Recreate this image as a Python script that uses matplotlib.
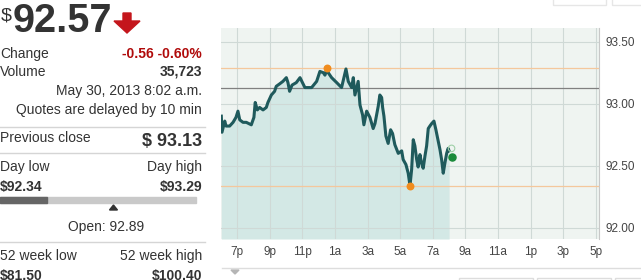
import matplotlib
matplotlib.use("Agg")
import matplotlib.pyplot as plt
from matplotlib.patches import Polygon, Rectangle

# ---- Data ----
# hours after 6 p.m. on the previous day
hours = [0.02, 0.06, 0.23, 0.31, 0.53, 0.74, 0.92, 1.04, 1.15, 1.35, 1.55, 1.86,
         2.02, 2.10, 2.23, 2.37, 2.58, 2.78, 2.88, 3.09, 3.29, 3.39, 3.60, 3.80,
         4.01, 4.11, 4.21, 4.36, 4.62, 4.85, 5.15, 5.56, 5.87, 6.07, 6.28, 6.38,
         6.53, 6.58, 6.79, 7.10, 7.40, 7.67, 7.81, 8.02, 8.12, 8.22, 8.42, 8.53,
         8.69, 8.77, 8.94, 9.14, 9.34, 9.45, 9.65, 9.75, 9.86, 9.92, 10.00, 10.12,
         10.26, 10.41, 10.53, 10.67, 10.88, 11.09, 11.18, 11.35, 11.49, 11.60, 11.70, 11.80,
         11.90, 12.01, 12.10, 12.21, 12.31, 12.41, 12.52, 12.62, 12.72, 12.82, 12.93, 13.07,
         13.19, 13.33, 13.44, 13.54, 13.64, 13.74, 13.85, 13.94, 14.00]
prices = [92.90, 92.77, 92.86, 92.82, 92.82, 92.85, 92.89, 92.94, 92.87, 92.85, 92.85, 92.83,
          92.89, 93.01, 92.95, 92.97, 92.95, 92.97, 93.01, 93.07, 93.10, 93.14, 93.16, 93.18,
          93.21, 93.17, 93.10, 93.15, 93.17, 93.21, 93.13, 93.13, 93.18, 93.26, 93.25, 93.23,
          93.29, 93.25, 93.21, 93.17, 93.13, 93.28, 93.18, 93.13, 93.21, 93.07, 93.18, 92.99,
          92.91, 92.83, 92.94, 92.89, 92.80, 92.84, 92.98, 93.07, 93.05, 92.97, 92.90, 92.74,
          92.68, 92.79, 92.76, 92.67, 92.60, 92.62, 92.55, 92.51, 92.44, 92.34, 92.47, 92.71,
          92.66, 92.55, 92.49, 92.59, 92.52, 92.48, 92.58, 92.66, 92.80, 92.82, 92.84, 92.86,
          92.79, 92.70, 92.63, 92.55, 92.44, 92.52, 92.60, 92.64, 92.62]

tick_hours = [1, 3, 5, 7, 9, 11, 13, 15, 17, 19, 21, 23]
tick_labels = ["7p", "9p", "11p", "1a", "3a", "5a", "7a", "9a", "11a", "1p", "3p", "5p"]
price_ticks = [92.00, 92.50, 93.00, 93.50]

last_hour = 14.15
last_price = 92.57
high_hour = 6.53
low_hour = 11.60
prev_close = 93.13
day_low = 92.34
day_high = 93.29
open_price = 92.89

plt.rcParams["font.family"] = ["Liberation Sans", "DejaVu Sans"]

W, H = 641, 280
fig = plt.figure(figsize=(W / 100, H / 100), dpi=100)


def fx(x):
    return x / W


def fy(y):
    return 1 - y / H


TXT = "#333333"

# ---- Left panel ----
fig.text(fx(1), fy(21), "$", fontsize=14, color=TXT)
fig.text(fx(13), fy(32), "92.57", fontsize=28.5, fontweight="bold", color=TXT)
arrow = [(123, 13), (131, 13), (131, 21), (140, 21), (127, 33), (114, 21), (123, 21)]
fig.patches.append(Polygon([(fx(a), fy(b)) for a, b in arrow], closed=True,
                           transform=fig.transFigure, color="#c4161c"))

rows = [
    (58, "Change", "-0.56 -0.60%", "#b00b0b"),
    (76, "Volume", "35,723", TXT),
]
for y, left, right, col in rows:
    fig.text(fx(0), fy(y), left, fontsize=10, color=TXT)
    fig.text(fx(202), fy(y), right, fontsize=10, fontweight="bold", color=col, ha="right")
fig.text(fx(202), fy(95), "May 30, 2013 8:02 a.m.", fontsize=10, color=TXT, ha="right")
fig.text(fx(202), fy(114), "Quotes are delayed by 10 min", fontsize=10, color=TXT, ha="right")

for y in [127, 153, 242]:
    fig.add_artist(plt.Line2D([0, fx(205)], [fy(y), fy(y)], color="#d5d5d5", lw=1))

fig.text(fx(0), fy(142), "Previous close", fontsize=10, color=TXT)
fig.text(fx(202), fy(146), "$ 93.13", fontsize=13, fontweight="bold", color=TXT, ha="right")

fig.text(fx(0), fy(171), "Day low", fontsize=10, color=TXT)
fig.text(fx(202), fy(171), "Day high", fontsize=10, color=TXT, ha="right")
fig.text(fx(0), fy(191), "$92.34", fontsize=10, fontweight="bold", color=TXT)
fig.text(fx(202), fy(191), "$93.29", fontsize=10, fontweight="bold", color=TXT, ha="right")

# day range bar
bar_w = 196
frac_now = (last_price - day_low) / (day_high - day_low)
frac_open = (open_price - day_low) / (day_high - day_low)
fig.patches.append(Rectangle((0, fy(203)), fx(bar_w), 6 / H, transform=fig.transFigure,
                             color="#c9c9c9"))
fig.patches.append(Rectangle((0, fy(203)), fx(bar_w * frac_now), 6 / H,
                             transform=fig.transFigure, color="#666666"))
tx = bar_w * frac_open
fig.patches.append(Polygon([(fx(tx - 4), fy(210)), (fx(tx + 4), fy(210)), (fx(tx), fy(205))],
                           transform=fig.transFigure, color="#333333"))
fig.text(fx(106), fy(231), "Open: 92.89", fontsize=10, color=TXT, ha="center")

fig.text(fx(0), fy(260), "52 week low", fontsize=10, color=TXT)
fig.text(fx(202), fy(260), "52 week high", fontsize=10, color=TXT, ha="right")
# these sit on the bottom edge, cut off as in the reference
fig.text(fx(0), fy(280), "$81.50", fontsize=10, fontweight="bold", color=TXT)
fig.text(fx(202), fy(280), "$100.40", fontsize=10, fontweight="bold", color=TXT, ha="right")

# ---- Chart ----
ax = fig.add_axes([fx(221), fy(239), (599 - 221) / W, (239 - 28) / H])
ymin, ymax = 91.91, 93.61
ax.set_xlim(0, 23.2)
ax.set_ylim(ymin, ymax)
ax.set_facecolor("#eff4f1")

ax.fill_between(hours, prices, ymin, color="#d3e8e5", lw=0, zorder=1)
for h in tick_hours:
    ax.axvline(h, color="#cfd9d6", lw=0.8, zorder=2)
for p in price_ticks:
    ax.axhline(p, color="#cfd9d6", lw=0.8, zorder=2)

ax.axhline(day_high, color="#f4c79c", lw=0.9, zorder=3)
ax.axhline(day_low, color="#f4c79c", lw=0.9, zorder=3)
ax.axhline(prev_close, color="#808080", lw=0.9, zorder=3)

ax.plot(hours, prices, color="#1f5a5c", lw=2.2, zorder=4, solid_joinstyle="round")
ax.scatter([high_hour, low_hour], [day_high, day_low], s=22, color="#f08c1e", zorder=5)
ax.scatter([last_hour], [last_price + 0.07], s=22, facecolor="none",
           edgecolor="#9fd0a8", lw=0.8, zorder=5)
ax.scatter([last_hour], [last_price], s=26, color="#1a8a3a", zorder=6)

ax.set_xticks(tick_hours)
ax.set_xticklabels(tick_labels)
ax.set_yticks(price_ticks)
ax.set_yticklabels([f"{p:.2f}" for p in price_ticks])
ax.yaxis.tick_right()
ax.tick_params(length=0, labelsize=8.5, labelcolor="#444444")
ax.tick_params(axis="x", pad=5)
ax.tick_params(axis="y", pad=5)
for side in ["top", "left", "bottom"]:
    ax.spines[side].set_visible(False)
ax.spines["right"].set_color("#c8c8c8")
ax.spines["right"].set_linewidth(0.8)

# ---- bits of page around the chart ----
fig.add_artist(plt.Line2D([fx(222), 1], [fy(268), fy(268)], color="#dddddd", lw=1))
fig.patches.append(Polygon([(fx(231), fy(270)), (fx(239), fy(270)), (fx(235), fy(274))],
                           transform=fig.transFigure, color="#b5b5b5"))
for x0, x1 in [(459, 533), (537, 611), (615, 650)]:
    fig.patches.append(Rectangle((fx(x0), fy(290)), (x1 - x0) / W, 12 / H, transform=fig.transFigure,
                                 facecolor="none", edgecolor="#dddddd", lw=1))
for x0, x1 in [(553, 606), (612, 650)]:
    fig.patches.append(Rectangle((fx(x0), fy(5)), (x1 - x0) / W, 10 / H, transform=fig.transFigure,
                                 facecolor="none", edgecolor="#e6e6e6", lw=1))

fig.savefig("out.png", dpi=100)
